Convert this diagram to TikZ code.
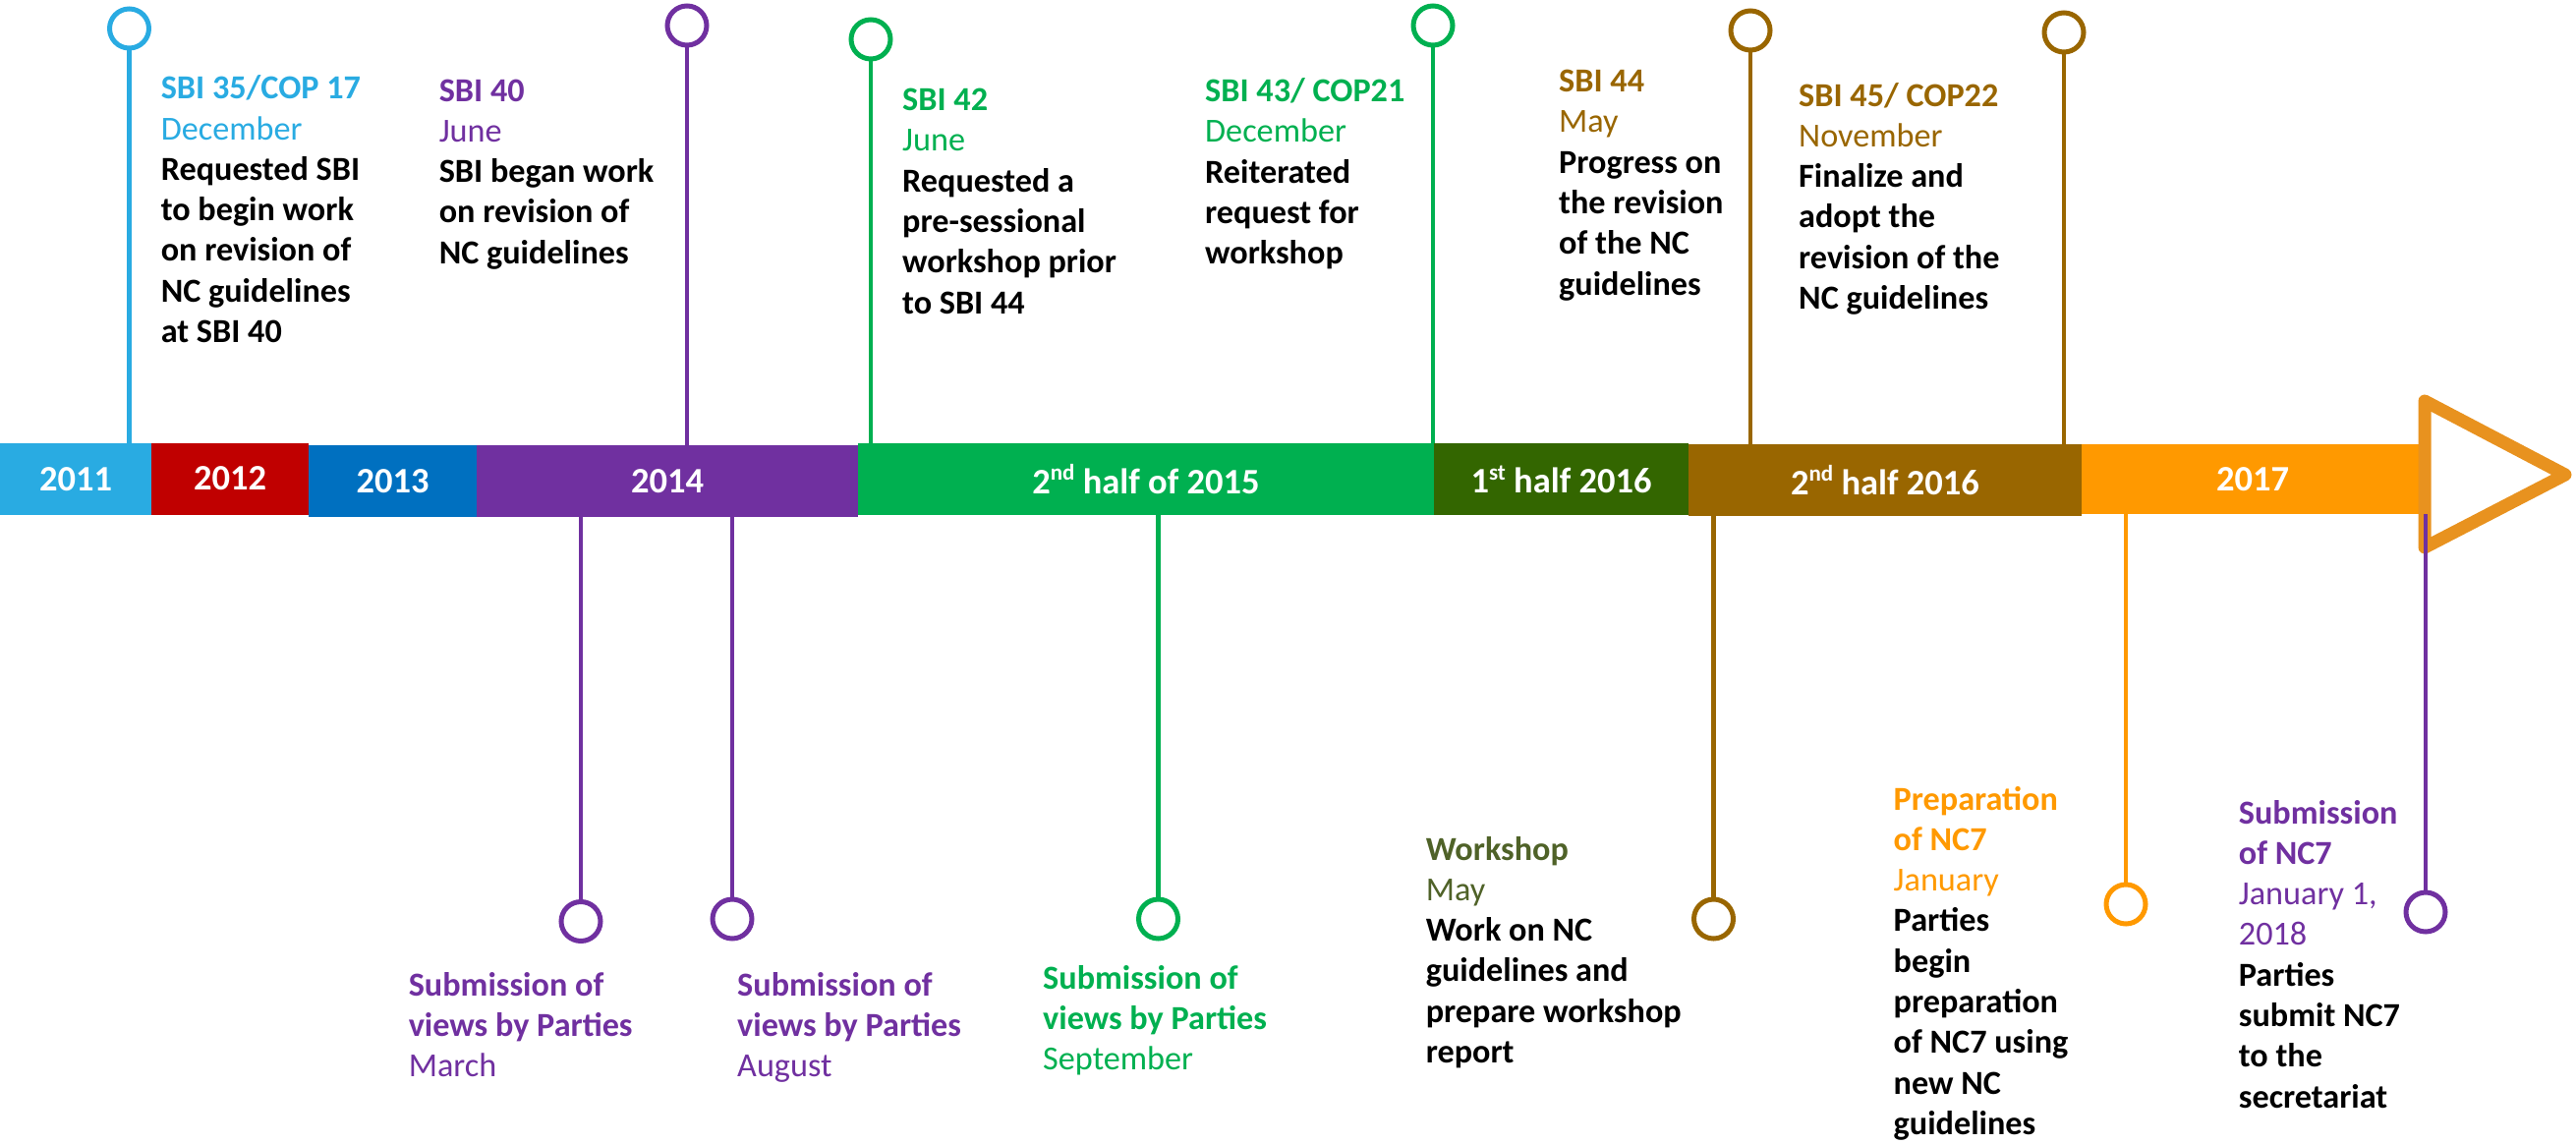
\documentclass[tikz,border=0pt]{standalone}
\usepackage{fontspec}
\setmainfont{Carlito}
\definecolor{lblue}{HTML}{29ABE2}
\definecolor{cred}{HTML}{C00000}
\definecolor{cblue}{HTML}{0070C0}
\definecolor{cpurple}{HTML}{7030A0}
\definecolor{cgreen}{HTML}{00B050}
\definecolor{cdkgreen}{HTML}{336600}
\definecolor{colive}{HTML}{4F6228}
\definecolor{cbrown}{HTML}{996600}
\definecolor{corange}{HTML}{FF9900}
\definecolor{carrow}{HTML}{E8921F}
\newcommand{\tlblock}[1]{\parbox[t]{520pt}{\raggedright\fontsize{34.2}{41.3}\selectfont\leavevmode #1}}
\newcommand{\supx}[1]{\raisebox{0.36em}{\fontsize{23}{23}\selectfont #1}}
\begin{document}
\begin{tikzpicture}[x=1pt,y=-1pt,
  bar/.style={rectangle, inner sep=0, minimum height=73pt, text=white, font=\fontsize{36.5}{40}\selectfont\bfseries},
  pin/.style={circle, draw, inner sep=0, minimum size=40pt, line width=5pt, fill=white},
  stem/.style={line width=4.5pt},
  txt/.style={anchor=base west, inner sep=0}]
\useasboundingbox (0,0) rectangle (2621,1164);
% bars
\node[bar, fill=lblue, minimum width=154pt] (b2011) at (77,487.5) {2011};
\node[bar, fill=cred, minimum width=160pt] (b2012) at (234,487) {2012};
\node[bar, fill=cblue, minimum width=171pt] (b2013) at (399.5,489.5) {2013};
\node[bar, fill=cpurple, minimum width=388pt] (b2014) at (679,489.5) {2014};
\node[bar, fill=cgreen, minimum width=586pt] (b2015) at (1166,487.5) {2\supx{nd} half of 2015};
\node[bar, fill=cdkgreen, minimum width=259pt] (b2016a) at (1588.5,487.5) {1\supx{st} half 2016};
\node[bar, fill=cbrown, minimum width=400pt] (b2016b) at (1918,488.5) {2\supx{nd} half 2016};
\node[bar, fill=corange, minimum width=348pt, minimum height=71pt] (b2017) at (2292,487.5) {2017};
% arrow head
\draw[carrow, line width=13pt, line join=round, fill=white] (2467,408) -- (2610,483) -- (2467,557) -- cycle;
% top pins
\node[pin, draw=lblue] (p1) at (131.5,29) {};
\draw[stem, lblue] (p1.south) -- (p1.south |- b2011.north);
\node[pin, draw=cpurple] (p2) at (699,26) {};
\draw[stem, cpurple] (p2.south) -- (p2.south |- b2014.north);
\node[pin, draw=cgreen] (p3) at (886,40) {};
\draw[stem, cgreen] (p3.south) -- (p3.south |- b2015.north);
\node[pin, draw=cgreen] (p4) at (1458,26) {};
\draw[stem, cgreen] (p4.south) -- (p4.south |- b2015.north);
\node[pin, draw=cbrown] (p5) at (1781,31) {};
\draw[stem, cbrown] (p5.south) -- (p5.south |- b2016b.north);
\node[pin, draw=cbrown] (p6) at (2100,33) {};
\draw[stem, cbrown] (p6.south) -- (p6.south |- b2016b.north);
% bottom pins
\node[pin, draw=cpurple] (p7) at (591,937.5) {};
\draw[stem, cpurple] (p7.north |- b2014.south) -- (p7.north);
\node[pin, draw=cpurple] (p8) at (745,935) {};
\draw[stem, cpurple] (p8.north |- b2014.south) -- (p8.north);
\node[pin, draw=cgreen] (p9) at (1178.5,935) {};
\draw[stem, cgreen] (p9.north |- b2015.south) -- (p9.north);
\node[pin, draw=cbrown] (p10) at (1743.5,935) {};
\draw[stem, cbrown] (p10.north |- b2016b.south) -- (p10.north);
\node[pin, draw=corange] (p11) at (2163,920) {};
\draw[stem, corange] (p11.north |- b2017.south) -- (p11.north);
\node[pin, draw=cpurple] (p12) at (2468,928) {};
\draw[stem, cpurple] (p12.north |- b2017.south) -- (p12.north);
% top texts
\node[txt] (t1) at (163.6,100.7) {\tlblock{{\color{lblue}\bfseries SBI 35/COP 17}\\{\color{lblue}December}\\\bfseries Requested SBI\\to begin work\\on revision of\\NC guidelines\\at SBI 40}};
\node[txt] (t2) at (446.6,103) {\tlblock{{\color{cpurple}\bfseries SBI 40}\\{\color{cpurple}June}\\\bfseries SBI began work\\on revision of\\NC guidelines}};
\node[txt] (t3) at (918,112.5) {\tlblock{{\color{cgreen}\bfseries SBI 42}\\{\color{cgreen}June}\\\bfseries Requested a\\pre-sessional\\workshop prior\\to SBI 44}};
\node[txt] (t4) at (1226,103.6) {\tlblock{{\color{cgreen}\bfseries SBI 43/ COP21}\\{\color{cgreen}December}\\\bfseries Reiterated\\request for\\workshop}};
\node[txt] (t5) at (1586,93.6) {\tlblock{{\color{cbrown}\bfseries SBI 44}\\{\color{cbrown}May}\\\bfseries Progress on\\the revision\\of the NC\\guidelines}};
\node[txt] (t6) at (1830,108) {\tlblock{{\color{cbrown}\bfseries SBI 45/ COP22}\\{\color{cbrown}November}\\\bfseries Finalize and\\adopt the\\revision of the\\NC guidelines}};
% bottom texts
\node[txt] (t7) at (415.6,1013) {\tlblock{\color{cpurple}{\bfseries Submission of\\views by Parties}\\March}};
\node[txt] (t8) at (750,1013) {\tlblock{\color{cpurple}{\bfseries Submission of\\views by Parties}\\August}};
\node[txt] (t9) at (1061,1006) {\tlblock{\color{cgreen}{\bfseries Submission of\\views by Parties}\\September}};
\node[txt] (t10) at (1450.6,875) {\tlblock{{\color{colive}\bfseries Workshop}\\{\color{colive}May}\\\bfseries Work on NC\\guidelines and\\prepare workshop\\report}};
\node[txt] (t11) at (1926.5,824) {\tlblock{{\color{corange}\bfseries Preparation\\of NC7}\\{\color{corange}January}\\\bfseries Parties\\begin\\preparation\\of NC7 using\\new NC\\guidelines}};
\node[txt] (t12) at (2277.7,838) {\tlblock{{\color{cpurple}\bfseries Submission\\of NC7}\\{\color{cpurple}January 1,\\2018}\\\bfseries Parties\\submit NC7\\to the\\secretariat}};
\end{tikzpicture}
\end{document}
